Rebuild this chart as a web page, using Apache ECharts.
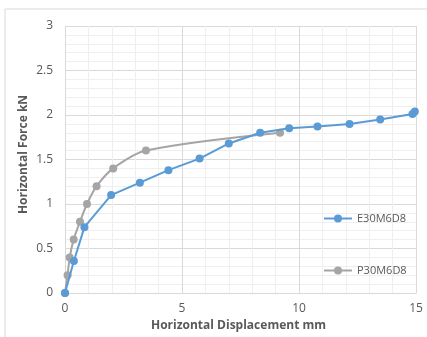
<!DOCTYPE html>
<html><head><meta charset="utf-8">
<script src="https://cdn.jsdelivr.net/npm/echarts@6/dist/echarts.min.js"></script>
<style>html,body{margin:0;padding:0;background:#fff}#c{width:427px;height:337px}</style>
</head><body><div id="c"></div>
<script>
const seriesNames = ['E30M6D8', 'P30M6D8'];
const eX = [0, 0.38, 0.83, 1.97, 3.2, 4.42, 5.75, 7.0, 8.34, 9.58, 10.79, 12.16, 13.47, 14.85, 14.95];
const eY = [0, 0.36, 0.74, 1.10, 1.24, 1.38, 1.51, 1.68, 1.80, 1.85, 1.87, 1.90, 1.95, 2.01, 2.04];
const pX = [0, 0.11, 0.2, 0.37, 0.64, 0.94, 1.35, 2.06, 3.46, 9.19];
const pY = [0, 0.20, 0.40, 0.60, 0.80, 1.00, 1.20, 1.40, 1.60, 1.80];
const xTitle = 'Horizontal Displacement mm';
const yTitle = 'Horizontal Force kN';

const FONT = 'Open Sans';
const chart = echarts.init(document.getElementById('c'), null, {renderer: 'canvas'});
const zip = (xs, ys) => xs.map((x, i) => [x, ys[i]]);
chart.setOption({
  animation: false,
  textStyle: {fontFamily: FONT},
  graphic: [{type: 'rect', shape: {x: 5, y: 9, width: 440, height: 350}, style: {fill: 'none', stroke: '#d9d9d9', lineWidth: 1}, silent: true}],
  grid: {left: 65, right: 11, top: 26, bottom: 44, containLabel: false},
  xAxis: {
    type: 'value', min: 0, max: 15, interval: 5,
    name: xTitle, nameLocation: 'middle', nameGap: 20,
    nameTextStyle: {color: '#595959', fontSize: 12, fontWeight: 'bold', fontFamily: FONT, padding: [0, 4, 0, 0]},
    axisLine: {show: true, lineStyle: {color: '#d9d9d9'}},
    axisTick: {show: false},
    axisLabel: {color: '#595959', fontSize: 12, margin: 10},
    splitLine: {show: true, lineStyle: {color: '#d9d9d9', width: 1}},
    minorTick: {show: false, splitNumber: 5},
    minorSplitLine: {show: true, lineStyle: {color: '#efefef', width: 1}}
  },
  yAxis: {
    type: 'value', min: 0, max: 3, interval: 0.5,
    name: yTitle, nameLocation: 'middle', nameGap: 35, nameRotate: 90, nameMoveOverlap: false,
    nameTextStyle: {color: '#595959', fontSize: 12, fontWeight: 'bold', fontFamily: FONT, padding: [0, 0, 0, 10]},
    axisLine: {show: true, lineStyle: {color: '#d9d9d9'}},
    axisTick: {show: false},
    axisLabel: {color: '#595959', fontSize: 12, margin: 12},
    splitLine: {show: true, lineStyle: {color: '#d9d9d9', width: 1}},
    minorTick: {show: false, splitNumber: 5},
    minorSplitLine: {show: true, lineStyle: {color: '#efefef', width: 1}}
  },
  legend: [
    {data: [seriesNames[0]], left: 318, top: 208, itemWidth: 28, itemHeight: 10, itemGap: 4, textStyle: {color: '#595959', fontSize: 11}},
    {data: [seriesNames[1]], left: 318, top: 260, itemWidth: 28, itemHeight: 10, itemGap: 4, textStyle: {color: '#595959', fontSize: 11}}
  ],
  series: [
    {name: seriesNames[1], type: 'line', data: zip(pX, pY), smooth: 0.3, symbol: 'circle', symbolSize: 8,
     itemStyle: {color: '#A5A5A5'}, lineStyle: {color: '#A5A5A5', width: 2}, z: 2},
    {name: seriesNames[0], type: 'line', data: zip(eX, eY), symbol: 'circle', symbolSize: 8,
     itemStyle: {color: '#5B9BD5'}, lineStyle: {color: '#5B9BD5', width: 2}, z: 3}
  ]
});
</script></body></html>
